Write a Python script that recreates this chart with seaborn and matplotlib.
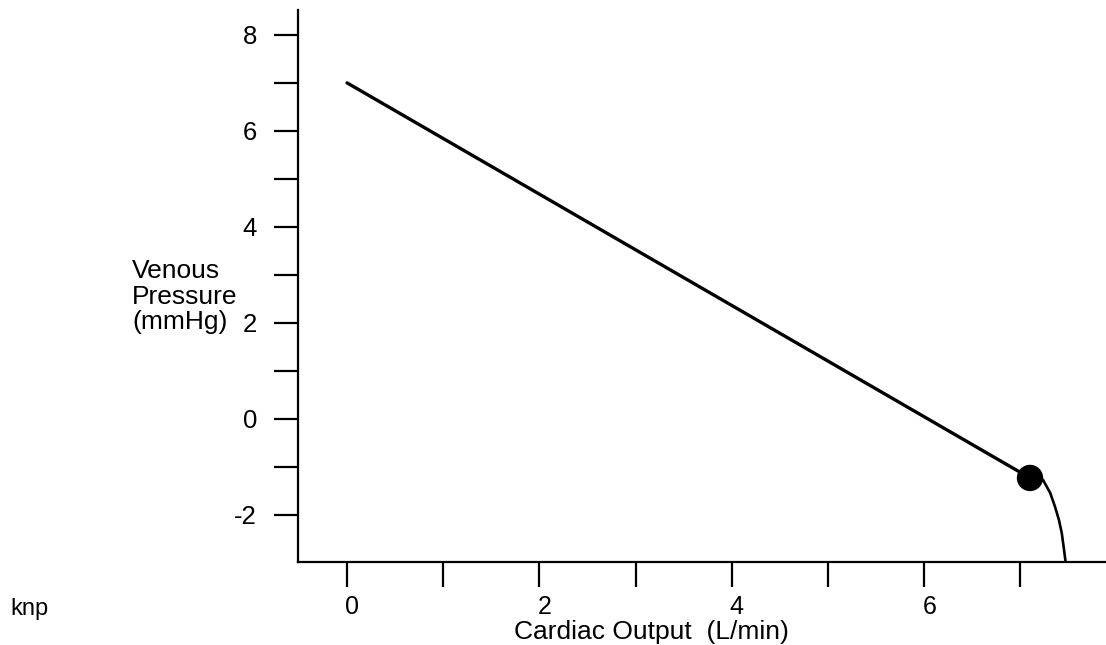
import matplotlib
matplotlib.use("Agg")
import matplotlib.pyplot as plt
import matplotlib.transforms as mtransforms
import seaborn as sns

# data
line_x = [0.0, 7.10]
line_y = [7.0, -1.23]
curve_x = [7.10, 7.235, 7.31, 7.36, 7.40, 7.43, 7.45, 7.47]
curve_y = [-1.23, -1.27, -1.54, -1.83, -2.10, -2.375, -2.67, -2.98]
dot_x = [7.10]
dot_y = [-1.23]
x_major = [0, 2, 4, 6]
x_minor = [1, 3, 5, 7]
y_major = [-2, 0, 2, 4, 6, 8]
y_minor = [-1, 1, 3, 5, 7]
ylabel_lines = ['Venous', 'Pressure', '(mmHg)']

sns.set_style("ticks")
plt.rcParams['font.family'] = ['Liberation Sans', 'DejaVu Sans']
plt.rcParams['text.color'] = 'black'
plt.rcParams['xtick.color'] = 'black'
plt.rcParams['ytick.color'] = 'black'
plt.rcParams['axes.edgecolor'] = 'black'

fig = plt.figure(figsize=(11.06, 6.45), dpi=100)
ax = fig.add_axes([0.2694, 0.1287, 0.7306, 0.856])

sns.lineplot(x=line_x, y=line_y, color='black', linewidth=2.4, sort=False, ax=ax)
sns.lineplot(x=curve_x, y=curve_y, color='black', linewidth=1.9, sort=False, ax=ax)
sns.scatterplot(x=dot_x, y=dot_y, color='black', s=360, edgecolor='none', ax=ax, zorder=5)

ax.set_xlim(-0.51, 7.89)
ax.set_ylim(-2.98, 8.52)

ax.spines['top'].set_visible(False)
ax.spines['right'].set_visible(False)
for s in ['left', 'bottom']:
    ax.spines[s].set_linewidth(1.6)

ax.set_xticks(x_major)
ax.set_xticks(x_minor, minor=True)
ax.set_yticks(y_major)
ax.set_yticks(y_minor, minor=True)
ax.set_xticklabels([str(v) for v in x_major], fontsize=18)
ax.set_yticklabels([str(v) for v in y_major], fontsize=18.5)
ax.tick_params(axis='x', which='both', direction='out', length=18, width=1.6, pad=6)
ax.tick_params(axis='y', which='both', direction='out', length=17.5, width=1.6, pad=12)

# tick labels sit a bit right of the ticks in the reference
offset = mtransforms.ScaledTranslation(5 / 100, 0, fig.dpi_scale_trans)
for lab in ax.get_xticklabels():
    lab.set_transform(lab.get_transform() + offset)

ax.set_xlabel('')
ax.set_ylabel('')
fig.text(651 / 1106, 1 - 639 / 645, 'Cardiac Output  (L/min)', fontsize=19,
         ha='center', va='baseline')
for i, txt in enumerate(ylabel_lines):
    fig.text(132 / 1106, 1 - (278 + 25.5 * i) / 645, txt, fontsize=19,
             ha='left', va='baseline')
fig.text(10 / 1106, 1 - 615 / 645, 'knp', fontsize=17, ha='left', va='baseline')

fig.savefig('out.png', dpi=100)
